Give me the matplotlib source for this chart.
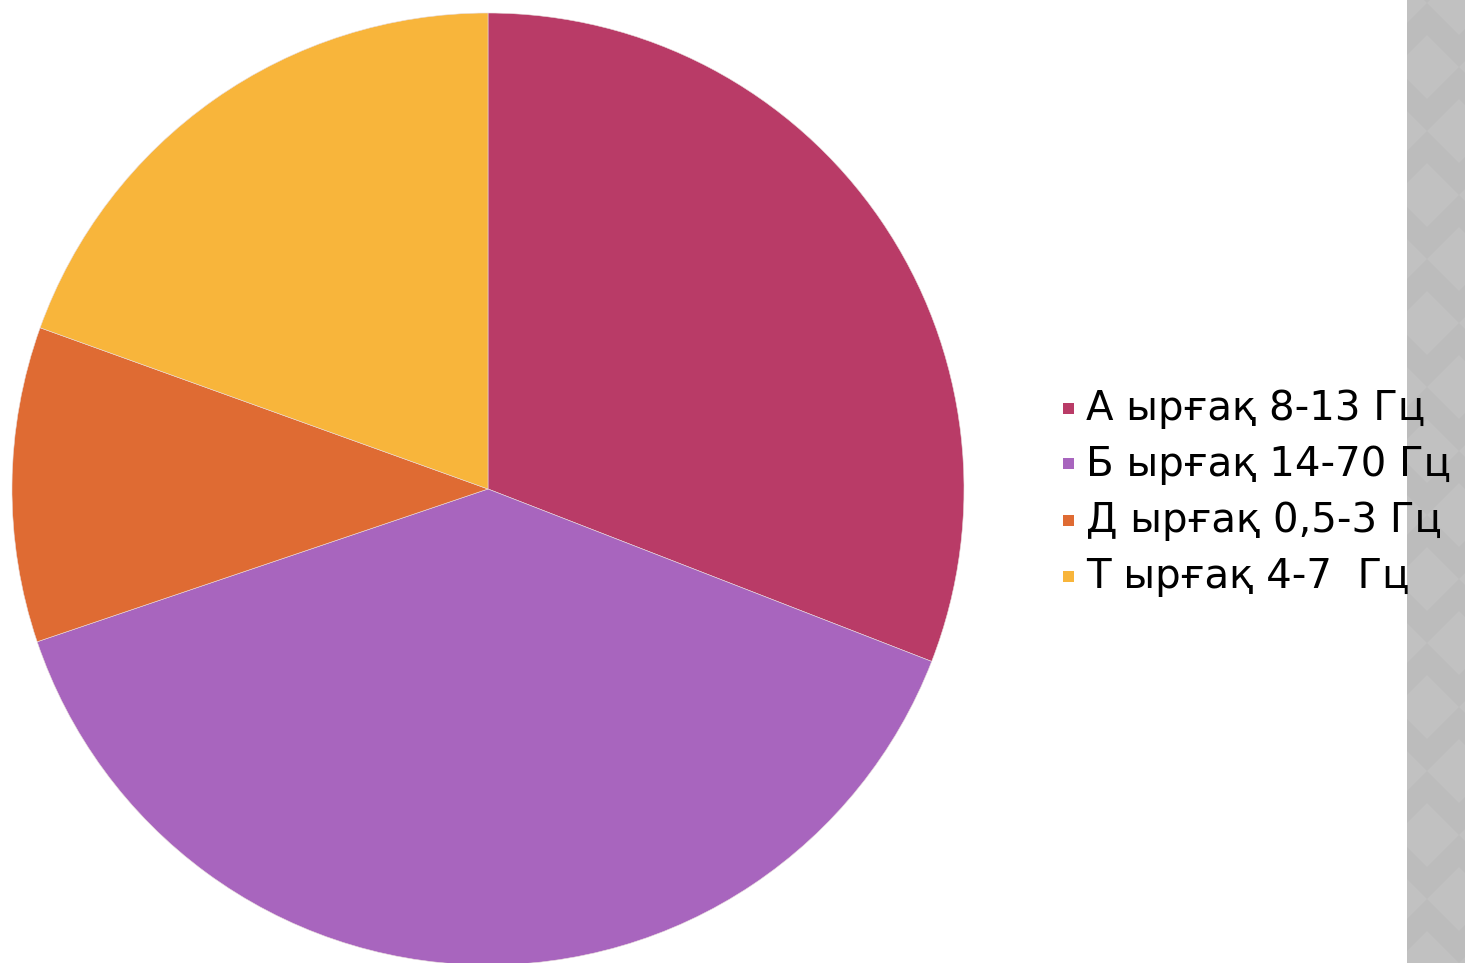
import matplotlib
matplotlib.use("Agg")
import matplotlib.pyplot as plt
from matplotlib.patches import Rectangle, Polygon

# Share of each brain-wave rhythm
labels = ["А ырғақ 8-13 Гц", "Б ырғақ 14-70 Гц", "Д ырғақ 0,5-3 Гц", "Т ырғақ 4-7  Гц"]
shares = [30.9, 38.9, 10.7, 19.5]
colors = ["#B93B67", "#A865BE", "#DF6B33", "#F8B53B"]

W, H = 1465, 963
fig = plt.figure(figsize=(W / 100, H / 100), dpi=100)
ax = fig.add_axes([0, 0, 1, 1])

# Decorative grey band on the right edge with a faint diamond pattern
band_x = 1407
ax.add_patch(Rectangle((band_x, 0), W - band_x, H, facecolor="#BCBCBC",
                       edgecolor="none", zorder=0))
step = 64
for row in range(-1, H // step + 2):
    for col in range(-1, 3):
        cx = band_x + 20 + col * step + (step / 2 if row % 2 else 0)
        cy = row * step
        d = step / 2
        ax.add_patch(Polygon([(cx, cy + d), (cx + d, cy), (cx, cy - d), (cx - d, cy)],
                             closed=True, facecolor="#C1C1C1", edgecolor="none",
                             zorder=0.1))
ax.add_patch(Rectangle((0, 0), band_x, H, facecolor="white", edgecolor="none", zorder=0.2))

wedges, _ = ax.pie(shares, colors=colors, startangle=90, counterclock=False,
                   center=(488, H - 489), radius=476, frame=True,
                   wedgeprops=dict(edgecolor="#E9DCDC", linewidth=0.4))
for w in wedges:
    w.set_zorder(1)
ax.set_xlim(0, W)
ax.set_ylim(0, H)
ax.set_aspect("equal")
ax.axis("off")

# Legend drawn as square markers with labels
y0 = H - 408
dy = 56
for i, (lab, c) in enumerate(zip(labels, colors)):
    y = y0 - i * dy
    ax.add_patch(Rectangle((1063, y - 5.5), 11, 11, facecolor=c, edgecolor="none", zorder=3))
    ax.text(1086, y - 1, lab, fontsize=29, family=["DejaVu Sans"],
            va="center", ha="left", color="black", zorder=3)

fig.savefig("out.png", dpi=100)
